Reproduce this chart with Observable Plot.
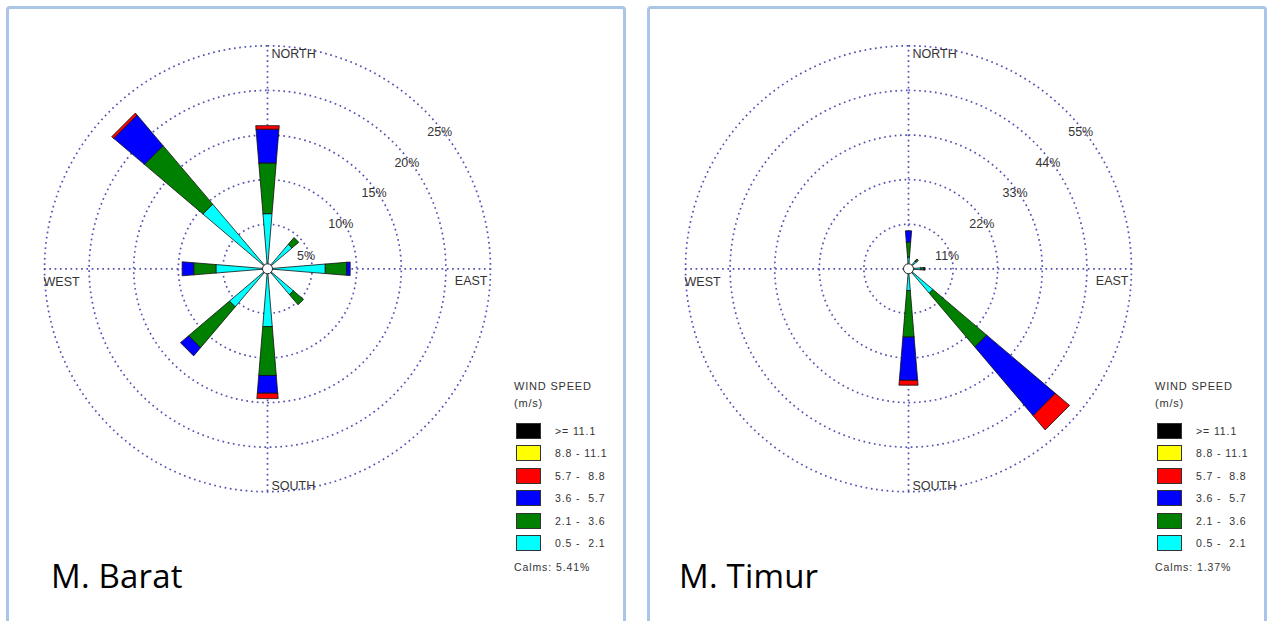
<!DOCTYPE html>
<html><head><meta charset="utf-8">
<script src="https://cdn.jsdelivr.net/npm/d3@7"></script>
<script src="https://cdn.jsdelivr.net/npm/@observablehq/plot@0.6"></script>
<style>
html,body{margin:0;padding:0;background:#fff;}
#page{position:relative;width:1272px;height:621px;overflow:hidden;font-family:"Liberation Sans",Arial,sans-serif;}
.panel{position:absolute;top:6px;width:620px;height:660px;box-sizing:border-box;border:3px solid #aac5e8;border-radius:4px;}
.plotwrap{position:absolute;top:0;}
.title{position:absolute;font-family:"Open Sans",sans-serif;font-size:33px;line-height:33px;letter-spacing:0.2px;color:#000;white-space:nowrap;}
.lg{position:absolute;color:#333;font-size:11px;line-height:11px;letter-spacing:0.8px;white-space:pre;}
.sw{position:absolute;width:25px;height:16px;box-sizing:border-box;border:1px solid #333;}
</style></head><body><div id="page"></div>
<script>
// ---- data ----
const directions = ["N", "NE", "E", "SE", "S", "SW", "W", "NW"];
const bearings = [0, 45, 90, 135, 180, 225, 270, 315];
const speedClasses = ["0.5 -  2.1", "2.1 -  3.6", "3.6 -  5.7", "5.7 -  8.8", "8.8 - 11.1", ">= 11.1"];
const classColors = ["#00ffff", "#008000", "#0000ff", "#ff0000", "#ffff00", "#000000"];

// M. Barat (percent of time per direction and speed class)
const barat_05_21 = [6.2, 3.6, 6.5, 3.8, 6.5, 5.6, 5.8, 9.5];
const barat_21_36 = [5.7, 1.0, 2.4, 1.5, 5.5, 6.0, 2.5, 8.6];
const barat_36_57 = [3.8, 0, 0.4, 0, 2.0, 1.2, 1.3, 4.5];
const barat_57_88 = [0.4, 0, 0, 0, 0.6, 0, 0, 0.3];
const barat_88_111 = [0, 0, 0, 0, 0, 0, 0, 0];
const barat_111 = [0, 0, 0, 0, 0, 0, 0, 0];
const baratRings = [5, 10, 15, 20, 25];
const baratCalms = "5.41%";

// M. Timur
const timur_05_21 = [2.9, 2.5, 3.0, 7.9, 5.4, 0.4, 0.3, 0.3];
const timur_21_36 = [3.7, 0.7, 0.8, 17.4, 11.5, 0, 0, 0];
const timur_36_57 = [2.8, 0, 0.3, 22.2, 10.7, 0, 0, 0];
const timur_57_88 = [0, 0, 0, 4.6, 1.2, 0, 0, 0];
const timur_88_111 = [0, 0, 0, 0, 0, 0, 0, 0];
const timur_111 = [0, 0, 0, 0, 0, 0, 0, 0];
const timurRings = [11, 22, 33, 44, 55];
const timurCalms = "1.37%";

const stations = [
  {name: "M. Barat", classes: [barat_05_21, barat_21_36, barat_36_57, barat_57_88, barat_88_111, barat_111], rings: baratRings, calms: baratCalms, left: 6, titleX: 45},
  {name: "M. Timur", classes: [timur_05_21, timur_21_36, timur_36_57, timur_57_88, timur_88_111, timur_111], rings: timurRings, calms: timurCalms, left: 647, titleX: 32}
];

// ---- drawing ----
const W = 620, H = 621, CX = 261, CY = 268.3, RPX = 223, HALF = 4.7;
const rad = a => a * Math.PI / 180;
const page = document.getElementById("page");

function segments(classes) {
  const out = [];
  directions.forEach((dir, i) => {
    let r0 = 0;
    classes.forEach((vals, c) => {
      const v = vals[i];
      if (!v) return;
      const r1 = r0 + v, b = bearings[i], id = dir + "-" + c;
      [[r0, b - HALF], [r1, b - HALF], [r1, b + HALF], [r0, b + HALF], [r0, b - HALF]]
        .forEach(([r, a]) => out.push({id, color: classColors[c], x: r * Math.sin(rad(a)), y: r * Math.cos(rad(a))}));
      r0 = r1;
    });
  });
  return out;
}

function rose(st) {
  const max = st.rings[st.rings.length - 1];
  const k = RPX / max;
  const ringPts = st.rings.flatMap(v => d3.range(0, 361, 2).map(a => ({ring: v, x: v * Math.sin(rad(a)), y: v * Math.cos(rad(a))})));
  const labelAngle = i => rad(43 - 26 / (i + 1));
  const grid = {stroke: "#5353b3", strokeWidth: 1.7, strokeDasharray: "1.7,3.6", strokeLinecap: "butt"};
  const lab = {fontSize: 12.5, fill: "#333"};
  return Plot.plot({
    width: W, height: H, margin: 0,
    x: {domain: [-CX / k, (W - CX) / k], axis: null},
    y: {domain: [-(H - CY) / k, CY / k], axis: null},
    color: {type: "identity"},
    style: {background: "transparent", fontFamily: "Liberation Sans, Arial, sans-serif", overflow: "visible"},
    marks: [
      Plot.line(ringPts, {x: "x", y: "y", z: "ring", ...grid}),
      Plot.ruleX([0], {y1: () => -max, y2: () => max, ...grid}),
      Plot.ruleY([0], {x1: () => -max, x2: () => max, ...grid}),
      Plot.text(st.rings, {x: (v, i) => v * Math.cos(labelAngle(i)), y: (v, i) => v * Math.sin(labelAngle(i)), text: v => v + "%", dx: -4, ...lab}),
      Plot.text(["NORTH"], {x: () => 0, y: () => max, text: d => d, textAnchor: "start", dx: 4, dy: 8, ...lab}),
      Plot.text(["SOUTH"], {x: () => 0, y: () => -max, text: d => d, textAnchor: "start", dx: 4, dy: -6, ...lab}),
      Plot.text(["EAST"], {x: () => max, y: () => 0, text: d => d, textAnchor: "end", dx: -3, dy: 12, ...lab}),
      Plot.text(["WEST"], {x: () => -max, y: () => 0, text: d => d, textAnchor: "start", dx: -1, dy: 13, ...lab}),
      Plot.line(segments(st.classes), {x: "x", y: "y", z: "id", fill: "color", stroke: "#111", strokeWidth: 0.8, strokeLinejoin: "miter", curve: "linear"}),
      Plot.dot([0], {x: () => 0, y: () => 0, r: 5, fill: "white", stroke: "#222", strokeWidth: 1})
    ]
  });
}

stations.forEach(st => {
  const panel = document.createElement("div");
  panel.className = "panel";
  panel.style.left = st.left + "px";
  page.appendChild(panel);

  const wrap = document.createElement("div");
  wrap.className = "plotwrap";
  wrap.style.left = st.left + "px";
  wrap.appendChild(rose(st));
  page.appendChild(wrap);

  const L = st.left + 508; // legend left
  const add = (cls, x, y, txt, extra) => {
    const e = document.createElement("div");
    e.className = cls; e.style.left = x + "px"; e.style.top = y + "px";
    if (txt != null) e.textContent = txt;
    if (extra) Object.assign(e.style, extra);
    page.appendChild(e); return e;
  };
  add("lg", L, 381.3, "WIND SPEED");
  add("lg", L, 397.6, "(m/s)");
  const rows = speedClasses.map((s, i) => ({s, c: classColors[i]})).reverse();
  rows.forEach((r, j) => {
    const top = 422.7 + j * 22.5;
    add("sw", L + 2, top, null, {background: r.c});
    add("lg", L + 41, top + 3, r.s, {fontSize: "10.5px", letterSpacing: "0.9px"});
  });
  add("lg", L, 562, "Calms: " + st.calms, {fontSize: "10.5px", letterSpacing: "0.9px"});

  add("title", st.left + st.titleX, 558.5, st.name);
});
</script></body></html>
